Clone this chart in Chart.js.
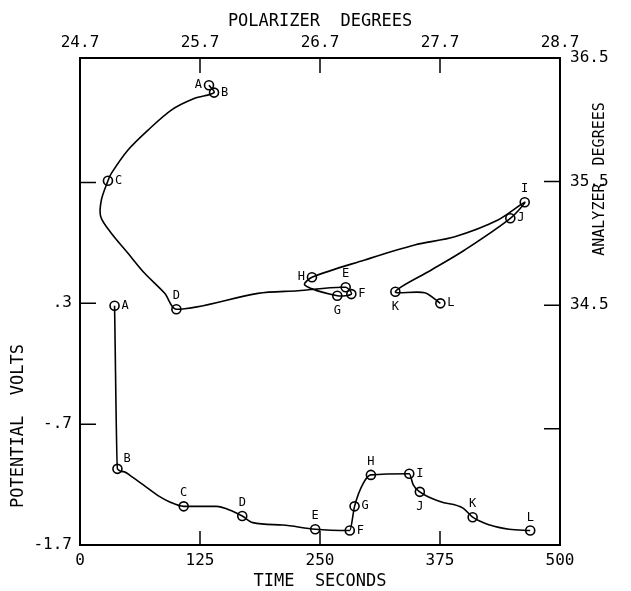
<!DOCTYPE html>
<html lang="en">
<head>
<meta charset="UTF-8">
<title>Potential and ellipsometer angles vs time</title>
<script src="https://cdn.jsdelivr.net/npm/chart.js"></script>
<style>
    html, body {
        margin: 0;
        padding: 0;
        background: #ffffff;
    }
    #wrap {
        width: 631px;
        height: 591px;
    }
</style>
</head>
<body>
<div id="wrap"><canvas id="chart" width="631" height="591"></canvas></div>
<script>
// potential vs time (bottom / left axes)
const timeSec = [36, 39, 45, 55, 66, 83, 93, 108, 142, 159, 169, 180, 211, 245, 281, 286, 295, 303, 343, 347, 354, 375, 399, 409, 427, 447, 469];
const potentialV = [0.28, -1.07, -1.093, -1.14, -1.203, -1.3, -1.342, -1.38, -1.38, -1.42, -1.46, -1.515, -1.535, -1.57, -1.58, -1.38, -1.19, -1.12, -1.11, -1.2, -1.26, -1.34, -1.395, -1.47, -1.535, -1.57, -1.58];
const potentialMarks = ['A', 'B', '', '', '', '', '', 'C', '', '', 'D', '', '', 'E', 'F', 'G', '', 'H', 'I', '', 'J', '', '', 'K', '', '', 'L'];

// analyzer vs polarizer (top / right axes)
const polarizerDeg = [25.775, 25.817, 25.656, 25.461, 25.267, 25.1, 24.961, 24.933, 24.878, 24.873, 24.961, 25.1, 25.239, 25.406, 25.503,
    26.183, 26.517, 26.914, 26.961, 26.844, 26.573, 26.633, 27.073, 27.489, 27.823, 28.183, 28.406, 28.286, 27.906, 27.628, 27.328, 27.573, 27.703];
const analyzerDeg = [36.28, 36.22, 36.174, 36.079, 35.917, 35.756, 35.567, 35.507, 35.351, 35.216, 35.082, 34.92, 34.758, 34.596, 34.467,
    34.596, 34.617, 34.645, 34.59, 34.577, 34.663, 34.726, 34.866, 34.987, 35.054, 35.189, 35.333, 35.203, 34.947, 34.785, 34.609, 34.601, 34.515];
const angleMarks = ['A', 'B', '', '', '', '', '', 'C', '', '', '', '', '', '', 'D', '', '', 'E', 'F', 'G', '', 'H', '', '', '', '', 'I', 'J', '', '', 'K', '', 'L'];

// which side of its circle each letter is written on
const potentialMarkSide = {A: 'r', B: 'tr', C: 't', D: 't', E: 't', F: 'r', G: 'r', H: 't', I: 'r', J: 'b', K: 't', L: 't'};
const angleMarkSide = {A: 'l', B: 'r', C: 'r', D: 't', E: 't', F: 'r', G: 'b', H: 'l', I: 't', J: 'r', K: 'b', L: 'r'};

// axes
const timeTicks = [0, 125, 250, 375, 500];
const polarizerTicks = [24.7, 25.7, 26.7, 27.7, 28.7];
const potentialTicks = [-1.7, -0.7, 0.3, 1.3];
const potentialTickLabels = ['-1.7', '-.7', '.3', ''];
const analyzerTicks = [33.5, 34.5, 35.5, 36.5];
const analyzerTickLabels = ['', '34.5', '35.5', '36.5'];

const FONT = 'DejaVu Sans Mono';
const tickFont = {family: FONT, size: 16};

function fixedTicks(values) {
    return function (scale) {
        scale.ticks = values.map(v => ({value: v}));
    };
}

function axis(position, min, max, values, size, padding, labels) {
    const horizontal = position === 'top' || position === 'bottom';
    return {
        type: 'linear',
        position: position,
        min: min,
        max: max,
        afterBuildTicks: fixedTicks(values),
        afterFit: function (scale) {
            if (horizontal) scale.height = size; else scale.width = size;
        },
        grid: {display: true, drawOnChartArea: false, drawTicks: false},
        border: {display: true, color: '#000', width: 2},
        ticks: {
            color: '#000',
            font: tickFont,
            padding: padding,
            autoSkip: false,
            maxRotation: 0,
            callback: function (value, index) {
                return labels ? labels[index] : String(value);
            }
        }
    };
}

const frameExtras = {
    id: 'frameExtras',
    afterDatasetsDraw(chart) {
        const ctx = chart.ctx;
        const area = chart.chartArea;
        const s = chart.scales;
        ctx.save();
        ctx.strokeStyle = '#000';
        ctx.lineWidth = 1.5;
        ctx.beginPath();
        // inward tick marks
        timeTicks.slice(1, -1).forEach(v => {
            const px = s.x.getPixelForValue(v);
            ctx.moveTo(px, area.bottom);
            ctx.lineTo(px, area.bottom - 14);
        });
        polarizerTicks.slice(1, -1).forEach(v => {
            const px = s.x2.getPixelForValue(v);
            ctx.moveTo(px, area.top);
            ctx.lineTo(px, area.top + 15);
        });
        potentialTicks.slice(1).forEach(v => {
            const py = s.y.getPixelForValue(v);
            ctx.moveTo(area.left, py);
            ctx.lineTo(area.left + 16, py);
        });
        analyzerTicks.slice(0, -1).forEach(v => {
            const py = s.y2.getPixelForValue(v);
            ctx.moveTo(area.right, py);
            ctx.lineTo(area.right - 16, py);
        });
        ctx.stroke();

        // point letters
        ctx.fillStyle = '#000';
        ctx.font = '12px ' + FONT;
        ctx.textBaseline = 'middle';
        const sets = [[potentialMarks, potentialMarkSide], [angleMarks, angleMarkSide]];
        sets.forEach((pair, di) => {
            const meta = chart.getDatasetMeta(di);
            pair[0].forEach((letter, i) => {
                if (!letter) return;
                const p = meta.data[i];
                const side = pair[1][letter];
                let tx = p.x, ty = p.y;
                ctx.textAlign = 'center';
                if (side === 'r') { tx += 7; ctx.textAlign = 'left'; }
                if (side === 'l') { tx -= 7; ctx.textAlign = 'right'; }
                if (side === 't') { ty -= 13; }
                if (side === 'b') { ty += 15; }
                if (side === 'tr') { tx += 6; ty -= 10; ctx.textAlign = 'left'; }
                ctx.fillText(letter, tx, ty);
            });
        });

        // axis titles
        const cx = (area.left + area.right) / 2;
        ctx.font = '17px ' + FONT;
        ctx.textAlign = 'center';
        ctx.fillText('POLARIZER  DEGREES', cx, 22);
        ctx.fillText('TIME  SECONDS', cx, 582);
        ctx.translate(19, 426);
        ctx.rotate(-Math.PI / 2);
        ctx.fillText('POTENTIAL  VOLTS', 0, 0);
        ctx.setTransform(1, 0, 0, 1, 0, 0);
        ctx.font = '15px ' + FONT;
        ctx.translate(600, 179);
        ctx.rotate(-Math.PI / 2);
        ctx.fillText('ANALYZER  DEGREES', 0, 0);
        ctx.restore();
    }
};

function lineSet(xs, ys, marks, xAxisID, yAxisID, extra) {
    return Object.assign({
        data: xs.map((v, i) => ({x: v, y: ys[i]})),
        xAxisID: xAxisID,
        yAxisID: yAxisID,
        borderColor: '#000',
        borderWidth: 1.6,
        fill: false,
        pointRadius: marks.map(m => m ? 4.5 : 0),
        pointBorderWidth: 1.6,
        pointBorderColor: '#000',
        pointBackgroundColor: 'rgba(0,0,0,0)'
    }, extra);
}

new Chart(document.getElementById('chart'), {
    type: 'line',
    data: {
        datasets: [
            lineSet(timeSec, potentialV, potentialMarks, 'x', 'y', {cubicInterpolationMode: 'monotone'}),
            lineSet(polarizerDeg, analyzerDeg, angleMarks, 'x2', 'y2', {tension: 0.3})
        ]
    },
    options: {
        responsive: false,
        animation: false,
        layout: {padding: 0},
        scales: {
            x: axis('bottom', 0, 500, timeTicks, 46, 6),
            x2: axis('top', 24.7, 28.7, polarizerTicks, 58, 6, polarizerTicks.map(v => v.toFixed(1))),
            y: axis('left', -1.7, 2.33, potentialTicks, 80, 8, potentialTickLabels),
            y2: axis('right', 32.56, 36.5, analyzerTicks, 71, 10, analyzerTickLabels)
        },
        plugins: {
            legend: {display: false},
            tooltip: {enabled: false}
        }
    },
    plugins: [frameExtras]
});
</script>
</body>
</html>
